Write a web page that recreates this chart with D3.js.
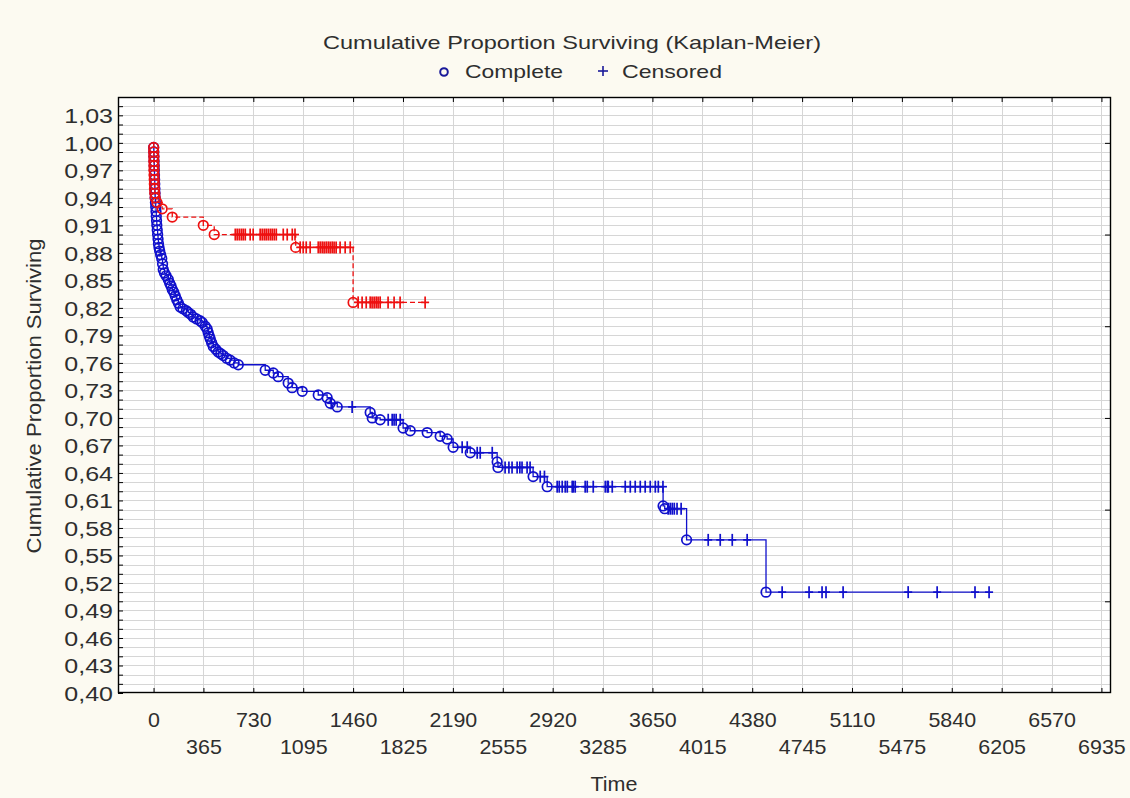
<!DOCTYPE html>
<html><head><meta charset="utf-8">
<script src="https://cdn.jsdelivr.net/npm/d3@7"></script>
<style>
html,body{margin:0;padding:0;background:#fcfaf1;}
svg{display:block;}
</style></head>
<body><svg id="chart" width="1130" height="798"></svg>
<script>
// ---------- data ----------
const xTickValues = [0,365,730,1095,1460,1825,2190,2555,2920,3285,3650,4015,4380,4745,5110,5475,5840,6205,6570,6935];
const yTickValues = [0.40,0.43,0.46,0.49,0.52,0.55,0.58,0.61,0.64,0.67,0.70,0.73,0.76,0.79,0.82,0.85,0.88,0.91,0.94,0.97,1.00,1.03];

// all cases (blue): times of complete (death) events and survival after each
const blueDeathT = [1,2,3,4,5,6,7,8,9,10,11,12,14,16,18,20,22,24,27,30,33,36,40,45,52,60,66,71,80,92,108,118,128,137,148,159,170,182,195,215,240,254,272,290,315,340,356,378,392,400,408,415,425,437,455,473,492,510,535,561,590,620,
  817,876,912,985,1014,1088,1205,1270,1293,1344,1585,1600,1658,1826,1878,2002,2097,2148,2192,2317,2514,2520,2777,2880,3728,3740,3900,4481];
const blueDeathS = [0.995,0.990,0.985,0.980,0.975,0.970,0.965,0.960,0.955,0.950,0.945,0.940,0.935,0.930,0.925,0.920,0.915,0.910,0.905,0.900,0.895,0.890,0.886,0.882,0.878,0.874,0.868,0.862,0.858,0.855,0.851,0.847,0.844,0.840,0.837,0.833,0.829,0.825,0.821,0.819,0.817,0.815,0.813,0.810,0.808,0.806,0.804,0.800,0.797,0.793,0.789,0.786,0.782,0.778,0.775,0.772,0.770,0.768,0.765,0.763,0.760,0.758,
  0.752,0.749,0.745,0.738,0.733,0.729,0.725,0.722,0.716,0.712,0.706,0.700,0.698,0.689,0.686,0.684,0.680,0.677,0.668,0.662,0.652,0.646,0.636,0.625,0.604,0.601,0.567,0.510];
const blueCensorT = [1300,1453,1717,1746,1760,1775,1805,2258,2295,2368,2390,2478,2572,2600,2623,2660,2680,2696,2733,2755,2829,2860,
  2953,2968,2990,3012,3027,3063,3071,3085,3158,3173,3217,3305,3320,3327,3356,3451,3488,3524,3561,3597,3634,3671,3693,3727,
  3765,3780,3795,3810,3830,3860,4058,4146,4234,4343,4599,4796,4891,4920,5045,5521,5733,6010,6113];

// subgroup (red)
const redDeathT = [1,1,2,2,3,3,4,5,6,7,9,12,25,63,137,364,444,1040,1460];
const redDeathS = [0.995,0.990,0.985,0.980,0.975,0.970,0.965,0.960,0.955,0.950,0.945,0.940,0.935,0.928,0.919,0.910,0.900,0.886,0.826];
const redCensorT = [598,612,627,642,656,671,707,729,780,795,810,824,839,854,868,883,898,949,978,1015,1035,
  1073,1095,1117,1146,1205,1219,1234,1248,1263,1278,1292,1307,1321,1336,1365,1402,1439,
  1497,1526,1556,1585,1599,1614,1629,1643,1658,1716,1760,1804,1987];

const titleText = "Cumulative Proportion Surviving (Kaplan-Meier)";
const legendLabels = ["Complete","Censored"];
const xTitle = "Time";
const yTitle = "Cumulative Proportion Surviving";

// ---------- layout ----------
const svg = d3.select("#chart");
const L = 118, R = 1111, T = 97, B = 693;
const x = d3.scaleLinear().domain([-260, 7005]).range([L, R]);
const y = d3.scaleLinear().domain([0.40, 1.05]).range([B, T]);
const BLUE = "#1010cc", RED = "#ee1010", TXT = "#2e2e2e";
const sans = "'Liberation Sans', Arial, sans-serif";

// horizontally stretch text to a width factor (reference text is wide)
function stretch(sel, factor) {
  sel.each(function() {
    const w = this.getComputedTextLength();
    d3.select(this).attr("textLength", w * factor).attr("lengthAdjust", "spacingAndGlyphs");
  });
}
function fitWidth(sel, width) {
  sel.attr("textLength", width).attr("lengthAdjust", "spacingAndGlyphs");
}

svg.append("rect").attr("width",1130).attr("height",798).attr("fill","#fcfaf1");
svg.append("rect").attr("x",L).attr("y",T).attr("width",R-L).attr("height",B-T).attr("fill","#ffffff");

// grid
const yMinor = d3.range(41, 105).map(d => d/100);
svg.append("g").selectAll("line").data(yMinor).join("line")
  .attr("x1",L).attr("x2",R).attr("y1",d=>Math.round(y(d))+0.5).attr("y2",d=>Math.round(y(d))+0.5)
  .attr("stroke","#d6d6d6").attr("stroke-width",1);
svg.append("g").selectAll("line").data(xTickValues).join("line")
  .attr("y1",T).attr("y2",B).attr("x1",d=>Math.round(x(d))+0.5).attr("x2",d=>Math.round(x(d))+0.5)
  .attr("stroke","#d6d6d6").attr("stroke-width",1);

// axes (inward ticks)
const fmt = d => d3.format(".2f")(d).replace(".", ",");
const gy = svg.append("g").attr("transform",`translate(${L},0)`)
  .call(d3.axisRight(y).tickValues(yMinor.concat([0.40])).tickSize(5).tickFormat(""));
gy.select(".domain").remove();
gy.selectAll("line").attr("stroke","#000");
const gyl = svg.append("g").attr("transform",`translate(${L},0)`)
  .call(d3.axisLeft(y).tickValues(yTickValues).tickSize(0).tickPadding(5).tickFormat(fmt));
gyl.select(".domain").remove();
gyl.selectAll("text").attr("font-family",sans).attr("font-size",20).attr("fill",TXT).attr("dy","0.36em");
stretch(gyl.selectAll("text"), 1.25);

const gr = svg.append("g").attr("transform",`translate(${R},0)`)
  .call(d3.axisLeft(y).tickValues([0.5,0.6,0.7,0.8,0.9,1.0]).tickSize(6).tickFormat(""));
gr.select(".domain").remove();
gr.selectAll("line").attr("stroke","#000");

const gxb = svg.append("g").attr("transform",`translate(0,${B})`)
  .call(d3.axisTop(x).tickValues(xTickValues).tickSize(5).tickFormat(""));
gxb.select(".domain").remove();
gxb.selectAll("line").attr("stroke","#000");
const gxt = svg.append("g").attr("transform",`translate(0,${T})`)
  .call(d3.axisBottom(x).tickValues(xTickValues).tickSize(5).tickFormat(""));
gxt.select(".domain").remove();
gxt.selectAll("line").attr("stroke","#000");

const gxl = svg.append("g").attr("transform",`translate(0,${B})`)
  .call(d3.axisBottom(x).tickValues(xTickValues).tickSize(0).tickFormat(d3.format("d")));
gxl.select(".domain").remove();
gxl.selectAll("text")
  .attr("y",(d,i)=> i%2===0 ? 26 : 53)
  .attr("dy","0.36em")
  .attr("font-family",sans).attr("font-size",21).attr("fill",TXT);
stretch(gxl.selectAll("text"), 1.02);

// frame
svg.append("rect").attr("x",L+0.5).attr("y",T+0.5).attr("width",R-L-1).attr("height",B-T-1)
  .attr("fill","none").attr("stroke","#000").attr("stroke-width",1.4);

// ---------- curves ----------
function drawKM(deathT, deathS, censorT, color, dashed) {
  const pts = [[0,1]].concat(deathT.map((t,i)=>[t, deathS[i]]));
  const tEnd = d3.max(censorT);
  const sAt = t => { const i = d3.bisectRight(deathT, t); return i === 0 ? 1 : deathS[i-1]; };
  pts.push([tEnd, sAt(tEnd)]);
  const line = d3.line().x(d=>x(d[0])).y(d=>y(d[1])).curve(d3.curveStepAfter);
  const g = svg.append("g");
  g.append("path").attr("d", line(pts)).attr("fill","none").attr("stroke",color)
    .attr("stroke-width",1.3).attr("stroke-dasharray", dashed ? "5,3" : null);
  g.selectAll("circle").data(deathT.map((t,i)=>[t,deathS[i]])).join("circle")
    .attr("cx",d=>x(d[0])).attr("cy",d=>y(d[1])).attr("r",4.8)
    .attr("fill","none").attr("stroke",color).attr("stroke-width",1.7);
  const cg = g.selectAll("g.cen").data(censorT).join("g").attr("class","cen")
    .attr("transform",t=>`translate(${x(t)},${y(sAt(t))})`);
  cg.append("line").attr("x1",0).attr("x2",0).attr("y1",-6).attr("y2",6).attr("stroke",color).attr("stroke-width",1.7);
  cg.append("line").attr("x1",-4).attr("x2",4).attr("y1",0).attr("y2",0).attr("stroke",color).attr("stroke-width",1.7);
}
drawKM(blueDeathT, blueDeathS, blueCensorT, BLUE, false);
drawKM(redDeathT, redDeathS, redCensorT, RED, true);

// ---------- titles & legend ----------
const tt = svg.append("text").attr("x",572).attr("y",49).attr("text-anchor","middle")
  .attr("font-family",sans).attr("font-size",19).attr("fill",TXT).text(titleText);
fitWidth(tt, 498);
svg.append("circle").attr("cx",444).attr("cy",72).attr("r",3.8).attr("fill","none").attr("stroke","#1a1a9a").attr("stroke-width",2);
const l1 = svg.append("text").attr("x",465).attr("y",78).attr("font-family",sans).attr("font-size",19).attr("fill",TXT).text(legendLabels[0]);
fitWidth(l1, 98);
const lp = svg.append("g").attr("transform","translate(603,71)");
lp.append("line").attr("x1",-5).attr("x2",5).attr("stroke","#1a1a9a").attr("stroke-width",1.6);
lp.append("line").attr("y1",-5).attr("y2",5).attr("stroke","#1a1a9a").attr("stroke-width",1.6);
const l2 = svg.append("text").attr("x",622).attr("y",78).attr("font-family",sans).attr("font-size",19).attr("fill",TXT).text(legendLabels[1]);
fitWidth(l2, 100);

const xt = svg.append("text").attr("x",614).attr("y",791).attr("text-anchor","middle")
  .attr("font-family",sans).attr("font-size",21).attr("fill",TXT).text(xTitle);
fitWidth(xt, 47);
const yt = svg.append("text").attr("transform","translate(41,396) rotate(-90)").attr("text-anchor","middle")
  .attr("font-family",sans).attr("font-size",20).attr("fill",TXT).text(yTitle);
fitWidth(yt, 315);
</script>
</body></html>
